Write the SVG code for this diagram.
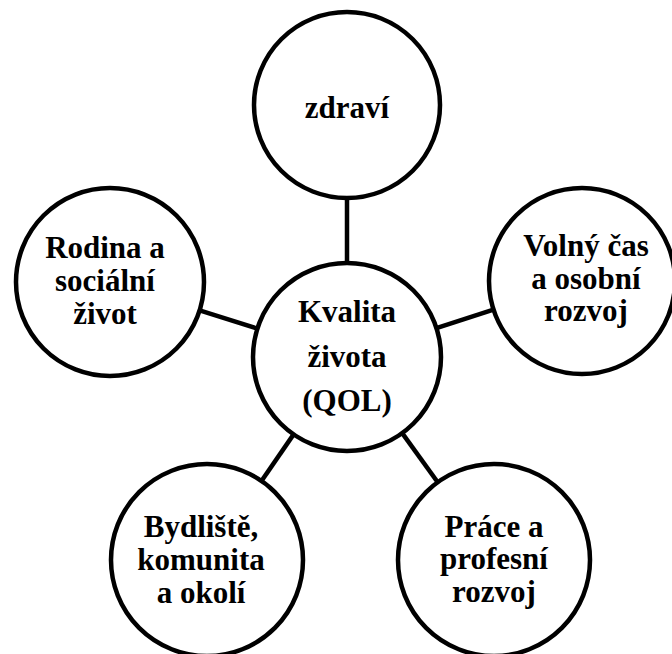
<svg xmlns="http://www.w3.org/2000/svg" width="672" height="654" viewBox="0 0 672 654">
<style>
.node{fill:#fff;stroke:#000;stroke-width:4.5}
.conn line{stroke:#000;stroke-width:4.5}
</style>
<rect width="672" height="654" fill="#fff"/>
<g id="connectors" class="conn">
<line x1="347" y1="197" x2="347" y2="264"/>
<line x1="257.4" y1="328.6" x2="199.6" y2="310.4"/>
<line x1="436.4" y1="328.1" x2="493.5" y2="309.6"/>
<line x1="293.6" y1="434.4" x2="261.5" y2="481"/>
<line x1="402.2" y1="433.1" x2="437.7" y2="482.2"/>
</g>
<g font-family="Liberation Serif, Times New Roman, serif" font-weight="bold" font-size="31" text-anchor="middle" fill="#000">
<g id="n-center">
<circle class="node" cx="347" cy="357" r="94"/>
<text x="347" y="322">Kvalita</text>
<text x="347" y="367">života</text>
<text x="347" y="411">(QOL)</text>
</g>
<g id="n-zdravi">
<circle class="node" cx="347" cy="105" r="93"/>
<text x="347" y="118">zdraví</text>
</g>
<g id="n-rodina">
<circle class="node" cx="110" cy="282" r="94"/>
<text x="105" y="258">Rodina a</text>
<text x="105" y="291">sociální</text>
<text x="105" y="324">život</text>
</g>
<g id="n-volny">
<circle class="node" cx="582" cy="281" r="93"/>
<text x="586" y="256">Volný čas</text>
<text x="586" y="289">a osobní</text>
<text x="586" y="321">rozvoj</text>
</g>
<g id="n-bydliste">
<circle class="node" cx="207" cy="560" r="96"/>
<text x="201" y="537">Bydliště,</text>
<text x="201" y="570">komunita</text>
<text x="201" y="603">a okolí</text>
</g>
<g id="n-prace">
<circle class="node" cx="494" cy="560" r="96"/>
<text x="494" y="537">Práce a</text>
<text x="494" y="569">profesní</text>
<text x="494" y="602">rozvoj</text>
</g>
</g>
</svg>
